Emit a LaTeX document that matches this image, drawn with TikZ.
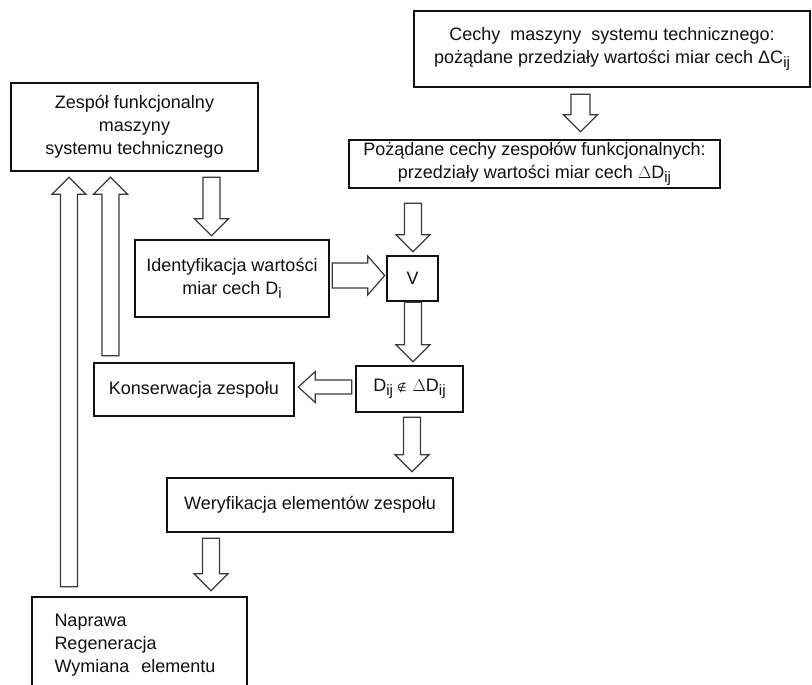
\documentclass[tikz,border=0pt]{standalone}
\usepackage{fontspec}
\setmainfont{Liberation Sans}
\newfontfamily\symfont{DejaVu Sans}
\usetikzlibrary{calc}
\definecolor{ink}{HTML}{111111}
\definecolor{arrowink}{HTML}{3A3A3A}
\newcommand\idx[1]{\raisebox{-0.45ex}{\fontsize{15}{15}\selectfont #1}}
\def\fatw{8.5pt}
\def\fath{17pt}
\def\fatl{17pt}
\tikzset{
  every node/.style={font=\fontsize{18}{23}\selectfont, text=ink},
  box/.style={draw=ink, line width=2.6pt, fill=white, align=center, inner sep=0pt},
  fatw/.code={\def\fatw{#1}},
  fath/.code={\def\fath{#1}},
  % hollow block arrow between two points
  fat/.style={
    draw=arrowink, fill=white, line width=1.2pt, line join=miter,
    to path={
      let \p1=(\tikztostart), \p2=(\tikztotarget), \p3=($(\p2)!\fatl!(\p1)$) in
      ($(\p1)!\fatw!90:(\p2)$) -- ($(\p3)!\fatw!-90:(\p1)$) -- ($(\p3)!\fath!-90:(\p1)$)
      -- (\p2) -- ($(\p3)!\fath!90:(\p1)$) -- ($(\p3)!\fatw!90:(\p1)$)
      -- ($(\p1)!\fatw!-90:(\p2)$) -- cycle
    }
  }
}
\begin{document}
\begin{tikzpicture}[x=1pt, y=-1pt]
  \useasboundingbox (0,0) rectangle (812,685);

  % Top right: requirements
  \node[box, minimum width=396pt, minimum height=76pt] (cechyC) at (612,49)
    {Cechy\ \ maszyny\ \ systemu technicznego:\\pożądane przedziały wartości miar cech ΔC\idx{ij}};
  \node[box, minimum width=371pt, minimum height=48pt] (cechyD) at (534.5,164)
    {Pożądane cechy zespołów funkcjonalnych:\\przedziały wartości miar cech $\Delta$D\idx{ij}};

  % Left: functional unit and identification
  \node[box, minimum width=247pt, minimum height=88pt] (zesp) at (134.5,127)
    {Zespół funkcjonalny\\maszyny\\systemu technicznego};
  \node[box, minimum width=194pt, minimum height=77pt] (ident) at (232,278.5)
    {Identyfikacja wartości\\miar cech D\idx{i}};
  \node[box, minimum width=51pt, minimum height=45pt] (V) at (412.5,278.5) {V};

  % Middle: check and actions
  \node[box, minimum width=107pt, minimum height=46pt] (dij) at (409.5,389)
    {D\idx{ij}\kern4pt{\symfont\fontsize{11}{11}\selectfont ∉}\kern6pt$\Delta$D\idx{ij}};
  \node[box, minimum width=200pt, minimum height=53pt] (kons) at (194,389.5) {Konserwacja zespołu};
  \node[box, minimum width=286pt, minimum height=54pt] (wer) at (310,505) {Weryfikacja elementów zespołu};
  \node[box, align=left, text width=170pt, inner xsep=22.5pt, minimum height=96pt] (napr) at (139.5,645)
    {Naprawa\\Regeneracja\\Wymiana\ \ elementu};

  % Block arrows
  \draw[fat, fatw=9.5pt] ($(cechyC.south)+(-31.5,6)$) to ($(cechyD.north)+(46,-7)$);
  \draw[fat] ($(zesp.south)+(77,5)$) to ($(ident.north)+(-20.5,-3)$);
  \draw[fat, fatw=12.5pt, fath=19.5pt] ($(ident.east)+(2,-3)$) to ($(V.west)+(-1,-3)$);
  \draw[fat] ($(cechyD.south)+(-121.5,14)$) to ($(V.north)+(0.5,-3)$);
  \draw[fat] ($(V.south)+(0.5,0)$) to ($(dij.north)+(3.5,-3)$);
  \draw[fat, fatw=7pt, fath=15.5pt] ($(dij.west)+(-3,-2)$) to ($(kons.east)+(3,-2.5)$);
  \draw[fat] ($(dij.south)+(2.5,4)$) to ($(wer.north)+(102,-5)$);
  \draw[fat] ($(wer.south)+(-99,5)$) to ($(napr.north)+(71.5,-5)$);
  \draw[fat] ($(napr.north)+(-70.5,-9)$) to ($(zesp.south)+(-65.5,5)$);
  \draw[fat] ($(kons.north)+(-83.5,-6)$) to ($(zesp.south)+(-24,5)$);
\end{tikzpicture}
\end{document}
